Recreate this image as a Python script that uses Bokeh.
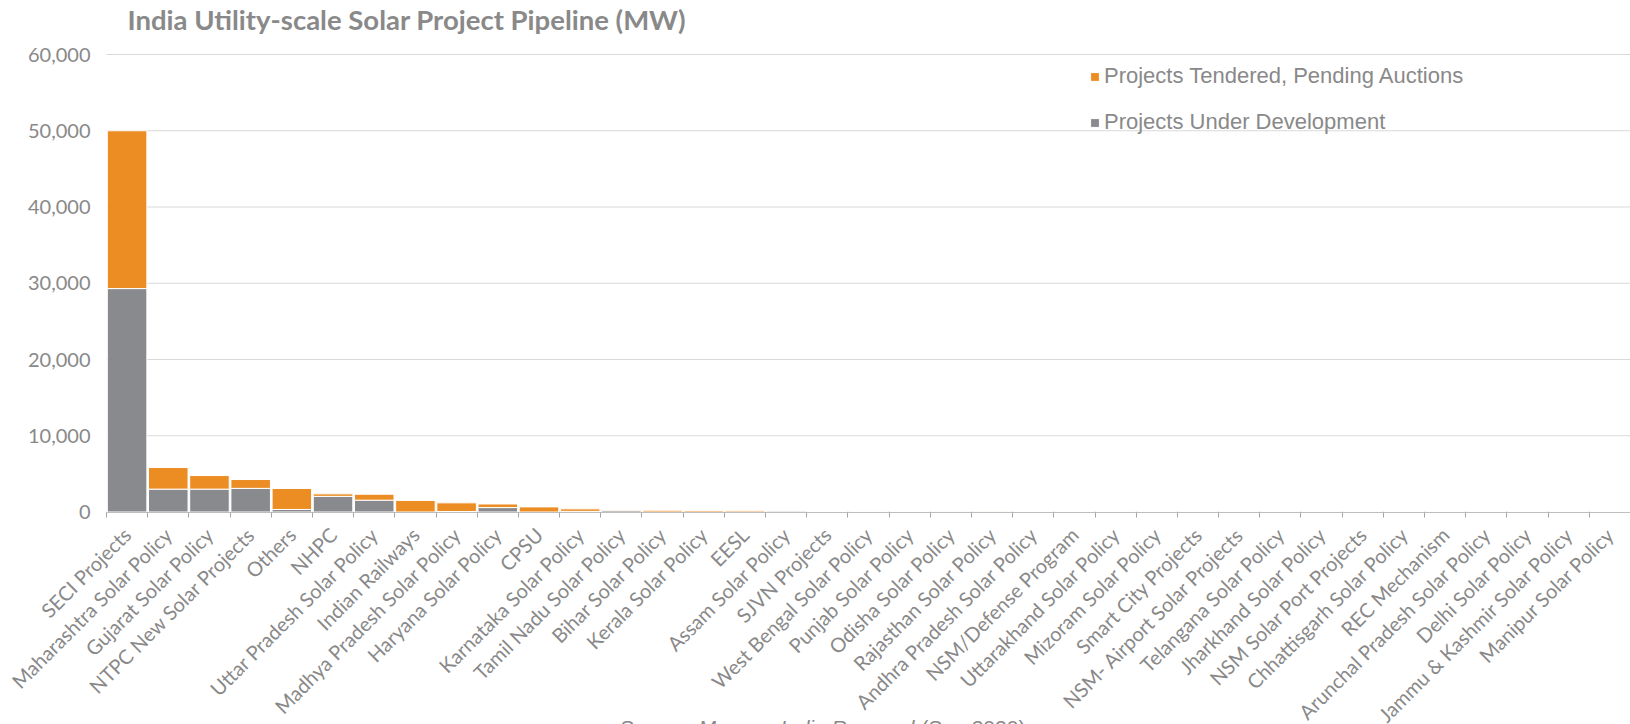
from math import pi

from bokeh.embed import file_html
from bokeh.models import (ColumnDataSource, CustomJSTickFormatter, FixedTicker, Label,
                          Legend, LegendItem, LinearAxis, NumeralTickFormatter, Range1d)
from bokeh.plotting import figure
from bokeh.resources import INLINE

# Pipeline by programme / state policy, MW
categories = [
    "SECI Projects", "Maharashtra Solar Policy", "Gujarat Solar Policy",
    "NTPC New Solar Projects", "Others", "NHPC", "Uttar Pradesh Solar Policy",
    "Indian Railways", "Madhya Pradesh Solar Policy", "Haryana Solar Policy", "CPSU",
    "Karnataka Solar Policy", "Tamil Nadu Solar Policy", "Bihar Solar Policy",
    "Kerala Solar Policy", "EESL", "Assam Solar Policy", "SJVN Projects",
    "West Bengal Solar Policy", "Punjab Solar Policy", "Odisha Solar Policy",
    "Rajasthan Solar Policy", "Andhra Pradesh Solar Policy", "NSM/Defense Program",
    "Uttarakhand Solar Policy", "Mizoram Solar Policy", "Smart City Projects",
    "NSM- Airport Solar Projects", "Telangana Solar Policy", "Jharkhand Solar Policy",
    "NSM Solar Port Projects", "Chhattisgarh Solar Policy", "REC Mechanism",
    "Arunchal Pradesh Solar Policy", "Delhi Solar Policy", "Jammu & Kashmir Solar Policy",
    "Manipur Solar Policy",
]
under_development = [
    29300, 3000, 3000, 3100, 330, 2050, 1550, 0, 60, 580, 0,
    80, 230, 0, 0, 0, 150, 50, 10, 20, 15, 12, 10, 8,
    6, 5, 4, 3, 3, 2, 2, 1, 1, 1, 1, 0, 0,
]
tendered_pending = [
    20700, 2830, 1780, 1160, 2750, 330, 780, 1520, 1140, 470, 670,
    330, 80, 230, 190, 160, 10, 30, 40, 5, 5, 6, 5, 4,
    4, 3, 3, 3, 2, 3, 2, 2, 1, 1, 1, 2, 1,
]
y_ticks = [0, 10000, 20000, 30000, 40000, 50000, 60000]

ORANGE = "#EC8D24"
GRAY = "#898A8E"
TEXT = "#898989"

n = len(categories)
source = ColumnDataSource(dict(
    x=[i + 0.5 for i in range(n)],
    dev=under_development,
    tend=tendered_pending,
))

# One frame covers the whole canvas; the scales are set so that the bars
# occupy x 106..1630 px and the value scale 0..60,000 spans y 511.5..54 px.
W, H = 1630, 724
LEFT, ZERO_Y, TOP_Y = 106.0, 511.5, 54.0
px_per_cat = (W - LEFT) / n
px_per_mw = (ZERO_Y - TOP_Y) / 60000
x_range = Range1d(-LEFT / px_per_cat, n)
y_range = Range1d(-(H - ZERO_Y) / px_per_mw, 60000 + TOP_Y / px_per_mw)

p = figure(
    frame_width=W, frame_height=H, x_range=x_range, y_range=y_range,
    output_backend="svg", toolbar_location=None,
    x_axis_location=None, y_axis_location=None,
    min_border=0, outline_line_color=None,
    background_fill_color="white", border_fill_color="white",
)
p.xgrid.visible = False
p.ygrid.visible = False

# horizontal gridlines across the bar area
p.segment(x0=[0] * len(y_ticks), x1=[n] * len(y_ticks), y0=y_ticks, y1=y_ticks,
          line_color="#D9D9D9", line_width=1)

stack = p.vbar_stack(
    ["dev", "tend"], x="x", width=0.96, source=source,
    fill_color=[GRAY, ORANGE], line_color="white", line_width=1,
)

# value axis
y_axis = LinearAxis(
    fixed_location=0, ticker=FixedTicker(ticks=y_ticks),
    formatter=NumeralTickFormatter(format="0,0"), bounds=(0, 60000),
    axis_line_color=None, major_tick_line_color=None, minor_tick_line_color=None,
    major_tick_out=0, major_tick_in=0, major_label_standoff=16,
    major_label_text_font="Lato", major_label_text_font_size="20px",
    major_label_text_color=TEXT,
)
p.add_layout(y_axis, "left")

# category axis at zero: tick marks between bars, names centred under bars
boundary_axis = LinearAxis(
    fixed_location=0, bounds=(0, n),
    ticker=FixedTicker(ticks=list(range(n + 1))),
    formatter=CustomJSTickFormatter(code="return '';"),
    axis_line_color="#BFBFBF", major_tick_line_color="#A6A6A6",
    major_tick_out=5, major_tick_in=0, minor_tick_line_color=None,
    major_label_standoff=0,
)
p.add_layout(boundary_axis, "below")

name_axis = LinearAxis(
    fixed_location=0, bounds=(0, n),
    ticker=FixedTicker(ticks=[i + 0.5 for i in range(n)]),
    formatter=CustomJSTickFormatter(args=dict(names=categories),
                                    code="return names[Math.floor(tick)] || '';"),
    axis_line_color=None, major_tick_line_color=None, minor_tick_line_color=None,
    major_tick_out=0, major_tick_in=0, major_label_standoff=19,
    major_label_orientation=pi / 4,
    major_label_text_font="Lato", major_label_text_font_size="20px",
    major_label_text_color=TEXT,
)
p.add_layout(name_axis, "below")

legend = Legend(
    items=[
        LegendItem(label="Projects Tendered, Pending Auctions", renderers=[stack[1]]),
        LegendItem(label="Projects Under Development", renderers=[stack[0]]),
    ],
    location=(1089, H - 135),
    glyph_width=11, glyph_height=11, label_standoff=4,
    label_text_font="Liberation Sans", label_text_font_size="22px",
    label_text_color=TEXT, label_height=21, spacing=20,
    padding=0, margin=0, border_line_color=None, background_fill_alpha=0,
)
p.add_layout(legend)

p.add_layout(Label(
    x=127, y=H - 19, x_units="screen", y_units="screen",
    text="India Utility-scale Solar Project Pipeline (MW)",
    text_font="Lato", text_font_style="bold", text_font_size="27.5px",
    text_color=TEXT, text_baseline="middle",
))

# source line, with the publisher name in italics
src_y = -3
for x, txt, style in [
    (620, "Source: ", "normal"),
    (698, "Mercom India Research", "italic"),
    (921, " (Sep 2020)", "normal"),
]:
    p.add_layout(Label(
        x=x, y=src_y, x_units="screen", y_units="screen", text=txt,
        text_font="Liberation Sans", text_font_style=style, text_font_size="21px",
        text_color=TEXT, text_baseline="alphabetic",
    ))

open("out.html", "w").write(file_html(p, INLINE))
